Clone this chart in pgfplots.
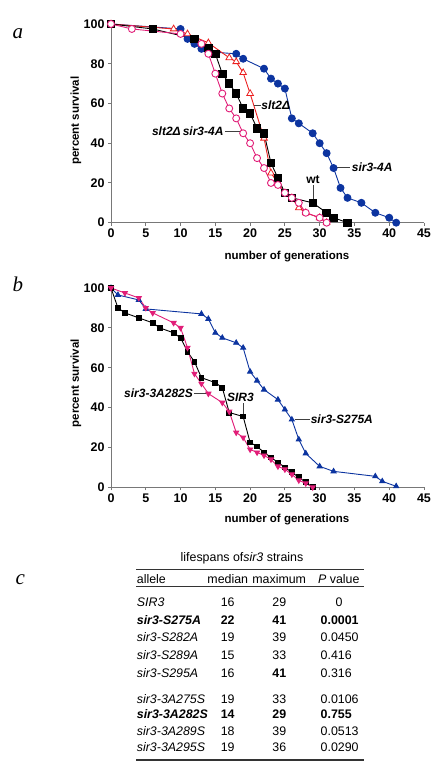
\documentclass[border=0pt]{standalone}
\usepackage{fontspec}
\setmainfont{Liberation Sans}
\newfontfamily\serifit{Liberation Serif}
\usepackage{pgfplots}
\pgfplotsset{compat=1.18}
\definecolor{cblue}{RGB}{12,52,160}
\definecolor{cred}{RGB}{235,30,30}
\definecolor{cpink}{RGB}{225,30,120}
\definecolor{axgray}{RGB}{120,120,120}
\pgfplotsset{surv/.style={
  scale only axis, width=313pt, xmin=0, xmax=45, ymin=0, ymax=100,
  axis x line*=bottom, axis y line*=left,
  axis line style={axgray, line width=0.9pt, -},
  tick style={axgray, line width=0.9pt},
  tick align=outside, major tick length=3pt,
  xtick={0,5,...,45}, ytick={0,20,...,100},
  tick label style={font=\fontsize{12.5}{14}\selectfont\bfseries},
  /pgf/number format/assume math mode=true,
  label style={font=\fontsize{11.5}{13}\selectfont\bfseries},
  clip=false}}
\tikzset{ann/.style={font=\fontsize{12}{14}\selectfont\bfseries\itshape, inner sep=0pt},
  lead/.style={black!75, line width=0.8pt}}
\newcommand{\tf}{\fontsize{12.4}{14}\selectfont}
\begin{document}
\begin{tikzpicture}[x=1pt,y=1pt]
\useasboundingbox (0pt,0pt) rectangle (440pt,767pt);
% panel letters
\node[anchor=base west, inner sep=0pt, font=\fontsize{21}{24}\selectfont\serifit\itshape] at (12.5pt,728.7pt) {a};
\node[anchor=base west, inner sep=0pt, font=\fontsize{21}{24}\selectfont\serifit\itshape] at (12.5pt,475.3pt) {b};
\node[anchor=base west, inner sep=0pt, font=\fontsize{21}{24}\selectfont\serifit\itshape] at (15.5pt,182pt) {c};
% ---------------- panel a
\begin{axis}[surv, height=198.7pt, at={(111pt,544.3pt)}, anchor=south west,
  xlabel={number of generations}, ylabel={percent survival},
  xlabel style={at={(axis description cs:0.562,-0.168)}, anchor=center},
  ylabel style={at={(axis description cs:-0.112,0.513)}, anchor=center}]
\addplot[cblue, line width=0.9pt, mark=*, mark size=3.5pt, mark options={fill=cblue}] coordinates {
(0,100)(10,97.5)(11,92.5)(12,90)(13,87.5)(14,86)(18,85)(19,82.5)(22,77.5)(23,72.5)(24,70)(25,67.5)(26,52.5)(27,50)(29,45)(30,40)(31,35)(32,27.5)(33,17.5)(34,12.5)(36,10)(38,5)(40,2.5)(41,0)};
\addplot[cred, line width=0.9pt, mark=triangle*, mark size=3.8pt, mark options={fill=white, draw=cred, line width=0.8pt}] coordinates {
(0,100)(9,97.5)(11,95)(14,90.5)(17,83)(18,81)(19,75.5)(20,65)(22,42.5)(23,25)(24,20)(25,15)(26,12.5)(27,7.5)(28,5)(30,2.5)(31,0)};
\addplot[black, line width=0.9pt, mark=square*, mark size=3.7pt, mark options={fill=black}] coordinates {
(0,100)(6,97.5)(12,92.5)(14,88)(15,85)(16,75)(17,70)(18,65)(19,57.5)(20,55)(21,47.5)(22,45)(23,30)(24,22.5)(25,15)(26,12.5)(29,10)(31,5)(32,2.5)(34,0)};
\addplot[cpink, line width=0.9pt, mark=*, mark size=3.5pt, mark options={fill=white, draw=cpink, line width=0.9pt}] coordinates {
(0,100)(3,97.5)(10,95)(13,90)(14,85)(15,75)(16,65)(17,57.5)(18,52.5)(19,45)(20,40)(21,32.5)(22,27.5)(23,20)(24,19)(25,15)(26,12.5)(27,10)(28,5)(30,2.5)(31,0)};
\draw[lead] (axis cs:20.6,59.2) -- (axis cs:21.5,59.2);
\node[ann, anchor=west] at (axis cs:21.6,59.2) {slt2Δ};
\draw[lead] (axis cs:16.4,45.8) -- (axis cs:18.6,45.8);
\node[ann, anchor=east] at (axis cs:16.2,45.8) {slt2Δ\,sir3-4A};
\draw[lead] (axis cs:29.05,18.8) -- (axis cs:29.05,11);
\node[anchor=base, inner sep=0pt, font=\fontsize{12}{14}\selectfont\bfseries] at (axis cs:29.05,19.6) {wt};
\draw[lead] (axis cs:32.5,27.9) -- (axis cs:34.4,27.9);
\node[ann, anchor=west] at (axis cs:34.6,27.9) {sir3-4A};
\end{axis}
% ---------------- panel b
\begin{axis}[surv, height=199.3pt, at={(111pt,279.7pt)}, anchor=south west,
  xlabel={number of generations}, ylabel={percent survival},
  xlabel style={at={(axis description cs:0.562,-0.164)}, anchor=center},
  ylabel style={at={(axis description cs:-0.112,0.522)}, anchor=center}]
\addplot[cblue, line width=0.9pt, mark=triangle*, mark size=2.9pt, mark options={fill=cblue}] coordinates {
(0,100)(1,96.5)(4,94)(5,89.5)(13,87)(14,84.5)(15,77.5)(16,75)(18,72.5)(19,70)(20,58)(21,53.5)(22,49)(24,44)(25,39)(26,34)(27,24)(28,17)(30,10.5)(32,8)(38,5.5)(39,3)(41,0.5)};
\addplot[black, line width=0.9pt, mark=square*, mark size=2.4pt, mark options={fill=black}] coordinates {
(0,100)(1,90)(2,87.5)(4,85)(6,82.5)(7,80)(9,77.5)(10,75)(11,68)(12,63)(13,55)(15,52.5)(16,50)(17,37.5)(19,35.5)(20,22.5)(21,20.5)(22,17.5)(23,15)(24,12.5)(25,10)(26,7.5)(27,5)(28,2.5)(29,0)};
\addplot[cpink, line width=0.9pt, mark=triangle*, mark size=2.9pt, mark options={fill=cpink, rotate=180}] coordinates {
(0,100)(2,97.5)(4,95)(5,90)(6,87.5)(9,82.5)(10,80)(11,70)(12,57)(13,52)(14,47)(16,42.5)(17,38)(18,27.5)(19,25)(20,19)(21,17.5)(22,16)(23,14)(24,10.5)(25,9)(26,6.5)(27,3.5)(28,2)(29,0)};
\draw[lead] (axis cs:11.9,47.2) -- (axis cs:13.8,47.2);
\node[ann, anchor=east] at (axis cs:11.8,47.2) {sir3-3A282S};
\draw[lead] (axis cs:19.0,42.1) -- (axis cs:19.0,36.5);
\node[ann, anchor=base] at (axis cs:18.6,43.2) {SIR3};
\draw[lead] (axis cs:26.4,34.1) -- (axis cs:28.6,34.1);
\node[ann, anchor=west] at (axis cs:28.7,34.1) {sir3-S275A};
\end{axis}
% ---------------- table c
\begin{scope}[every node/.style={inner sep=0pt, font=\tf}]
\node[anchor=base] at (242pt,205.2pt) {lifespans of\textit{sir3} strains};
\draw[black!80, line width=1.3pt] (136pt,197.7pt) -- (364pt,197.7pt);
\node[anchor=base west] at (136.7pt,183.2pt) {allele};
\node[anchor=base] at (227.8pt,183.2pt) {median};
\node[anchor=base] at (279.2pt,183.2pt) {maximum};
\node[anchor=base] at (338.8pt,183.2pt) {\textit{P} value};
\draw[black!80, line width=1.3pt] (136pt,180.3pt) -- (364pt,180.3pt);
% rows
\node[anchor=base west] at (136.7pt,160.8pt) {\textit{SIR3}};
\node[anchor=base] at (227.7pt,160.8pt) {16};
\node[anchor=base] at (279.3pt,160.8pt) {29};
\node[anchor=base] at (339pt,160.8pt) {0};
\node[anchor=base west] at (136.7pt,142.5pt) {\textbf{\textit{sir3-S275A}}};
\node[anchor=base] at (227.7pt,142.5pt) {\textbf{22}};
\node[anchor=base] at (279.3pt,142.5pt) {\textbf{41}};
\node[anchor=base west] at (320.5pt,142.5pt) {\textbf{0.0001}};
\node[anchor=base west] at (136.7pt,125.2pt) {\textit{sir3-S282A}};
\node[anchor=base] at (227.7pt,125.2pt) {19};
\node[anchor=base] at (279.3pt,125.2pt) {39};
\node[anchor=base west] at (320.5pt,125.2pt) {0.0450};
\node[anchor=base west] at (136.7pt,107.5pt) {\textit{sir3-S289A}};
\node[anchor=base] at (227.7pt,107.5pt) {15};
\node[anchor=base] at (279.3pt,107.5pt) {33};
\node[anchor=base west] at (320.5pt,107.5pt) {0.416};
\node[anchor=base west] at (136.7pt,89.8pt) {\textit{sir3-S295A}};
\node[anchor=base] at (227.7pt,89.8pt) {16};
\node[anchor=base] at (279.3pt,89.8pt) {\textbf{41}};
\node[anchor=base west] at (320.5pt,89.8pt) {0.316};
\node[anchor=base west] at (136.7pt,63.5pt) {\textit{sir3-3A275S}};
\node[anchor=base] at (227.7pt,63.5pt) {19};
\node[anchor=base] at (279.3pt,63.5pt) {33};
\node[anchor=base west] at (320.5pt,63.5pt) {0.0106};
\node[anchor=base west] at (136.7pt,48.2pt) {\textbf{\textit{sir3-3A282S}}};
\node[anchor=base] at (227.7pt,48.2pt) {\textbf{14}};
\node[anchor=base] at (279.3pt,48.2pt) {\textbf{29}};
\node[anchor=base west] at (320.5pt,48.2pt) {\textbf{0.755}};
\node[anchor=base west] at (136.7pt,31.8pt) {\textit{sir3-3A289S}};
\node[anchor=base] at (227.7pt,31.8pt) {18};
\node[anchor=base] at (279.3pt,31.8pt) {39};
\node[anchor=base west] at (320.5pt,31.8pt) {0.0513};
\node[anchor=base west] at (136.7pt,15.8pt) {\textit{sir3-3A295S}};
\node[anchor=base] at (227.7pt,15.8pt) {19};
\node[anchor=base] at (279.3pt,15.8pt) {36};
\node[anchor=base west] at (320.5pt,15.8pt) {0.0290};
\draw[black!80, line width=1.3pt] (136pt,7pt) -- (364pt,7pt);
\end{scope}
\end{tikzpicture}
\end{document}
